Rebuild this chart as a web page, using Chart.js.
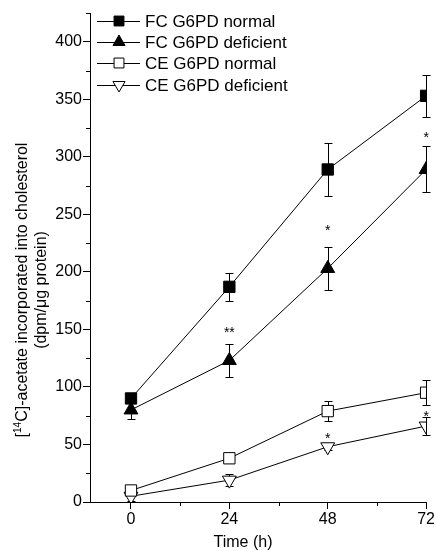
<!DOCTYPE html>
<html><head><meta charset="utf-8">
<script src="https://cdn.jsdelivr.net/npm/chart.js@4.4.0/dist/chart.umd.min.js"></script>
<style>html,body{margin:0;padding:0;background:#fff;}#wrap{width:436px;height:551px;}</style>
</head><body><div id="wrap"><canvas id="c" width="436" height="551"></canvas></div>
<script>
// ---- data ----
const times = [0, 24, 48, 72];
const xTickLabels = ['0', '24', '48', '72'];
const xMinorTicks = [12, 36, 60];
const yTickValues = [0, 50, 100, 150, 200, 250, 300, 350, 400];
const yMinorTicks = [25, 75, 125, 175, 225, 275, 325, 375, 425];
const seriesNames = ['FC G6PD normal', 'FC G6PD deficient', 'CE G6PD normal', 'CE G6PD deficient'];
const fcNormal = [90, 187, 289, 353];
const fcNormalErr = [4, 12, 23, 18];
const fcDeficient = [80, 123, 203, 289];
const fcDeficientErr = [8, 14, 19, 20];
const ceNormal = [10, 38, 79, 95];
const ceNormalErr = [3, 4, 9, 11];
const ceDeficient = [5, 19, 48, 66];
const ceDeficientErr = [4, 5, 3, 8];
const sigTimes = [24, 48, 48, 72, 72];
const sigValues = [150, 239, 58, 320, 77];
const sigMarks = ['**', '*', '*', '*', '*'];
const yTitle = ['[', '14', 'C]-acetate incorporated into cholesterol'];
const yTitle2 = '(dpm/\u03bcg protein)';
const xTitle = 'Time (h)';

const FONT = '"Liberation Sans", Arial, Helvetica, sans-serif';
const INK = '#000';

function mk(name, vals, errs, style, fill, rot) {
  return {
    label: name,
    data: times.map((t, i) => ({ x: t, y: vals[i] })),
    errors: errs,
    showLine: true,
    borderColor: INK,
    borderWidth: 1,
    tension: 0,
    pointStyle: style,
    rotation: rot,
    pointRadius: 8,
    pointHoverRadius: 8,
    pointBackgroundColor: fill,
    pointBorderColor: INK,
    pointBorderWidth: 1
  };
}

const datasets = [
  mk(seriesNames[0], fcNormal, fcNormalErr, 'rect', INK, 0),
  mk(seriesNames[1], fcDeficient, fcDeficientErr, 'triangle', INK, 0),
  mk(seriesNames[2], ceNormal, ceNormalErr, 'rect', '#fff', 0),
  mk(seriesNames[3], ceDeficient, ceDeficientErr, 'triangle', '#fff', 180)
];

const errorBars = {
  id: 'errorBars',
  beforeDatasetsDraw(chart) {
    const ctx = chart.ctx, xs = chart.scales.x, ys = chart.scales.y;
    ctx.save();
    ctx.strokeStyle = INK; ctx.lineWidth = 1;
    chart.data.datasets.forEach(ds => {
      ds.data.forEach((p, i) => {
        const e = ds.errors[i];
        const x = Math.round(xs.getPixelForValue(p.x)) + 0.5;
        const yt = Math.round(ys.getPixelForValue(p.y + e)) + 0.5;
        const yb = Math.round(ys.getPixelForValue(p.y - e)) + 0.5;
        ctx.beginPath();
        ctx.moveTo(x, yt); ctx.lineTo(x, yb);
        ctx.moveTo(x - 4, yt); ctx.lineTo(x + 4, yt);
        ctx.moveTo(x - 4, yb); ctx.lineTo(x + 4, yb);
        ctx.stroke();
      });
    });
    ctx.restore();
  }
};

function drawMarker(ctx, style, rot, fill, x, y, r) {
  const H = Chart.helpers;
  ctx.save();
  ctx.fillStyle = fill; ctx.strokeStyle = INK; ctx.lineWidth = 1;
  if (H && H.drawPoint) {
    H.drawPoint(ctx, { pointStyle: style, rotation: rot, radius: r, borderWidth: 1 }, x, y);
  }
  ctx.restore();
}

const extras = {
  id: 'extras',
  afterDraw(chart) {
    const ctx = chart.ctx, xs = chart.scales.x, ys = chart.scales.y, ca = chart.chartArea;
    ctx.save();
    ctx.strokeStyle = INK; ctx.lineWidth = 1;
    // minor ticks
    ctx.beginPath();
    xMinorTicks.forEach(v => {
      const x = Math.round(xs.getPixelForValue(v)) + 0.5;
      ctx.moveTo(x, ca.bottom); ctx.lineTo(x, ca.bottom + 4);
    });
    yMinorTicks.forEach(v => {
      const y = Math.round(ys.getPixelForValue(v)) + 0.5;
      ctx.moveTo(ca.left, y); ctx.lineTo(ca.left - 4, y);
    });
    ctx.stroke();
    // significance marks
    ctx.fillStyle = INK;
    ctx.font = '14px ' + FONT;
    ctx.textAlign = 'center'; ctx.textBaseline = 'alphabetic';
    sigTimes.forEach((t, i) => {
      ctx.fillText(sigMarks[i], xs.getPixelForValue(t), ys.getPixelForValue(sigValues[i]) + 8);
    });
    // legend
    const rowY = [21, 42, 63, 85];
    chart.data.datasets.forEach((ds, i) => {
      const y = rowY[i];
      ctx.beginPath();
      ctx.moveTo(97, y + 0.5); ctx.lineTo(140, y + 0.5); ctx.stroke();
      drawMarker(ctx, ds.pointStyle, ds.rotation, ds.pointBackgroundColor, 119, y, 7);
      ctx.fillStyle = INK;
      ctx.font = '17px ' + FONT;
      ctx.textAlign = 'left'; ctx.textBaseline = 'middle';
      ctx.fillText(ds.label, 145, y + 1);
    });
    // x title
    ctx.font = '16px ' + FONT;
    ctx.textAlign = 'center'; ctx.textBaseline = 'middle';
    ctx.fillText(xTitle, 243, 543);
    // y title (rotated)
    ctx.translate(23, 290);
    ctx.rotate(-Math.PI / 2);
    const big = '16px ' + FONT, small = '10px ' + FONT;
    ctx.font = big; const w0 = ctx.measureText(yTitle[0]).width;
    const w2 = ctx.measureText(yTitle[2]).width;
    ctx.font = small; const w1 = ctx.measureText(yTitle[1]).width;
    let sx = -(w0 + w1 + w2) / 2;
    ctx.textAlign = 'left'; ctx.textBaseline = 'middle';
    ctx.font = big; ctx.fillText(yTitle[0], sx, 0); sx += w0;
    ctx.font = small; ctx.fillText(yTitle[1], sx, -5); sx += w1;
    ctx.font = big; ctx.fillText(yTitle[2], sx, 0);
    ctx.textAlign = 'center';
    ctx.fillText(yTitle2, 0, 19);
    ctx.restore();
  }
};

new Chart(document.getElementById('c'), {
  type: 'line',
  data: { datasets },
  options: {
    responsive: false,
    animation: false,
    devicePixelRatio: 1,
    layout: { padding: { left: 0, top: 13, right: 9, bottom: 0 } },
    plugins: { legend: { display: false }, tooltip: { enabled: false }, title: { display: false } },
    scales: {
      x: {
        type: 'linear', min: -10, max: 72,
        afterBuildTicks: s => { s.ticks = times.map(v => ({ value: v })); },
        afterFit: s => { s.height = 49; },
        ticks: { font: { size: 16, family: FONT }, color: INK, padding: 1, maxRotation: 0,
          callback: (v) => xTickLabels[times.indexOf(v)] },
        grid: { drawOnChartArea: false, drawTicks: true, tickLength: 7, color: INK, lineWidth: 1 },
        border: { color: INK, width: 1 }
      },
      y: {
        type: 'linear', min: 0, max: 425,
        afterBuildTicks: s => { s.ticks = yTickValues.map(v => ({ value: v })); },
        afterFit: s => { s.width = 90; },
        ticks: { font: { size: 16, family: FONT }, color: INK, padding: 1 },
        grid: { drawOnChartArea: false, drawTicks: true, tickLength: 7, color: INK, lineWidth: 1 },
        border: { color: INK, width: 1 }
      }
    }
  },
  plugins: [errorBars, extras]
});
</script></body></html>
